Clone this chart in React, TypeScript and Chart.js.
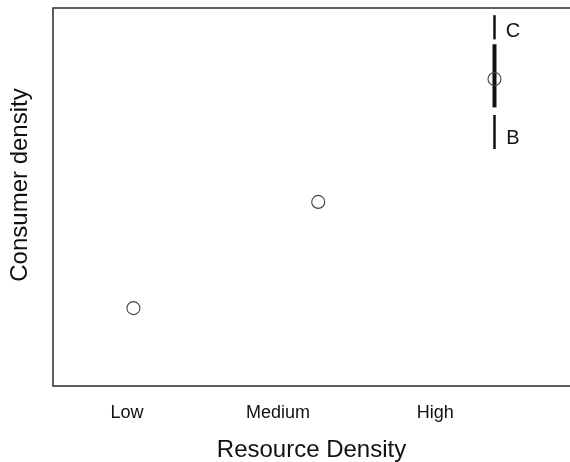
import React, { useEffect, useRef } from "react";
import { Chart, registerables } from "chart.js";

Chart.register(...registerables);

// Category tick labels and their positions on the x axis
const categories = ["Low", "Medium", "High"];
const categoryPositions = [1, 1.98, 3];

// Mean consumer density observed at each resource level
const pointX = [1.042, 2.241, 3.385];
const consumerDensity = [2.06, 4.87, 8.12];

// Vertical interval bars at the high resource level
const barX = 3.385;
const intervalC = [9.17, 9.81];
const intervalMain = [7.37, 9.04];
const intervalB = [6.27, 7.17];

// Text labels next to the interval bars
const labelText = ["C", "B"];
const labelX = [3.505, 3.505];
const labelY = [9.38, 6.55];

const yTitle = "Consumer density";
const xTitle = "Resource Density";

const FONT = "'Liberation Sans', Arial, Helvetica, sans-serif";

export default function App() {
  const ref = useRef<HTMLCanvasElement | null>(null);

  useEffect(() => {
    if (!ref.current) return;

    const framePlugin = {
      id: "frame",
      afterDatasetsDraw(chart: any) {
        const { ctx, chartArea } = chart;
        ctx.save();
        ctx.strokeStyle = "#2a2a2a";
        ctx.lineWidth = 1.5;
        ctx.beginPath();
        ctx.moveTo(chart.width + 2, chartArea.top);
        ctx.lineTo(chartArea.left, chartArea.top);
        ctx.lineTo(chartArea.left, chartArea.bottom);
        ctx.lineTo(chart.width + 2, chartArea.bottom);
        ctx.stroke();

        const xs = chart.scales.x;
        const ys = chart.scales.y;
        ctx.fillStyle = "#111";
        ctx.font = `20px ${FONT}`;
        ctx.textAlign = "center";
        ctx.textBaseline = "middle";
        labelText.forEach((t, i) => {
          ctx.fillText(t, xs.getPixelForValue(labelX[i]), ys.getPixelForValue(labelY[i]));
        });

        // y axis title
        ctx.font = `24px ${FONT}`;
        ctx.translate(20, 185);
        ctx.rotate(-Math.PI / 2);
        ctx.fillText(yTitle, 0, 0);
        ctx.restore();
      },
    };

    const seg = (range: number[], width: number) => ({
      type: "line" as const,
      data: [
        { x: barX, y: range[0] },
        { x: barX, y: range[1] },
      ],
      borderColor: "#111",
      borderWidth: width,
      pointRadius: 0,
      showLine: true,
      fill: false,
      order: 2,
    });

    const chart = new Chart(ref.current, {
      type: "scatter",
      data: {
        datasets: [
          seg(intervalC, 2.5),
          seg(intervalMain, 4),
          seg(intervalB, 2.5),
          {
            type: "scatter",
            data: pointX.map((x, i) => ({ x, y: consumerDensity[i] })),
            pointRadius: 6.5,
            pointBorderWidth: 1.1,
            pointBorderColor: "#444",
            pointBackgroundColor: "rgba(255,255,255,0)",
            order: 1,
          } as any,
        ],
      },
      options: {
        animation: false,
        responsive: true,
        maintainAspectRatio: false,
        layout: { autoPadding: false, padding: { top: 8, left: 0, right: 0, bottom: 0 } },
        plugins: {
          legend: { display: false },
          tooltip: { enabled: false },
        },
        scales: {
          x: {
            type: "linear",
            min: 0.52,
            max: 3.875,
            grid: { display: false, drawTicks: false },
            border: { display: false },
            afterBuildTicks: (scale: any) => {
              scale.ticks = categoryPositions.map((v) => ({ value: v }));
            },
            afterFit: (scale: any) => {
              scale.height = 76;
            },
            ticks: {
              autoSkip: false,
              maxRotation: 0,
              padding: 16,
              color: "#111",
              font: { family: FONT, size: 18 },
              callback: (v: any) => {
                const idx = categoryPositions.indexOf(Number(v));
                return idx >= 0 ? categories[idx] : "";
              },
            },
            title: {
              display: true,
              text: xTitle,
              color: "#111",
              font: { family: FONT, size: 24 },
              padding: { top: 0, bottom: -3 },
            },
          },
          y: {
            type: "linear",
            min: 0,
            max: 10,
            grid: { display: false, drawTicks: false },
            border: { display: false },
            ticks: { display: false },
            afterFit: (scale: any) => {
              scale.width = 53;
            },
          },
        },
      },
      plugins: [framePlugin],
    });

    return () => chart.destroy();
  }, []);

  return (
    <div style={{ position: "absolute", left: 0, top: 0, width: 570, height: 462 }}>
      <canvas ref={ref} />
    </div>
  );
}
